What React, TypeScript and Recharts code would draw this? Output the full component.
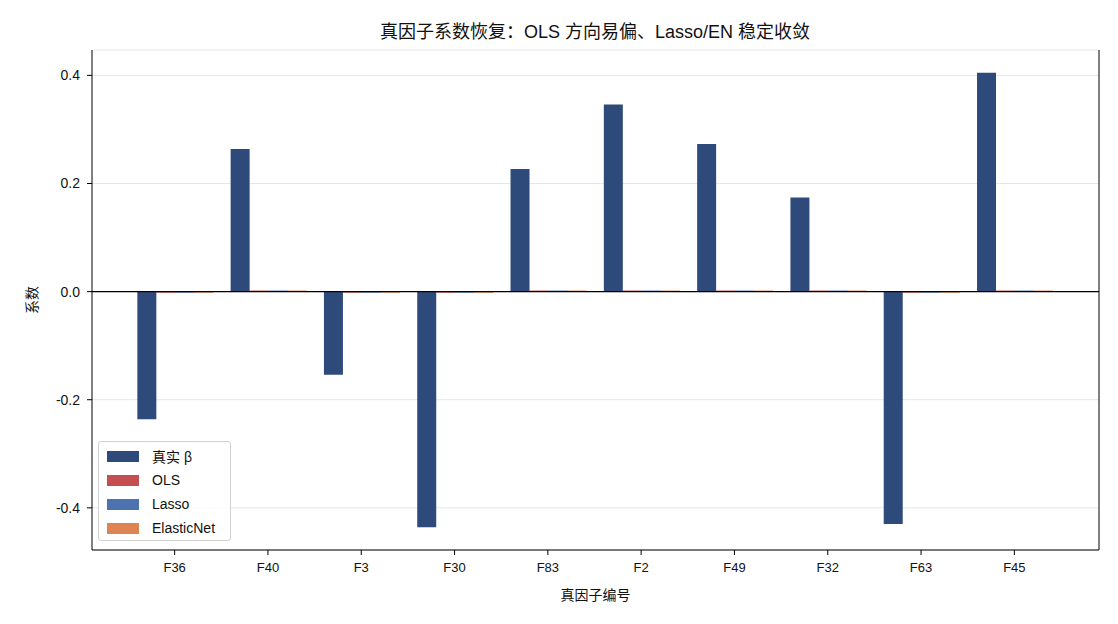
import React from 'react';
import { BarChart, Bar, XAxis, YAxis, CartesianGrid, ReferenceLine } from 'recharts';

// factor ids, in the order shown
const factors = ['F36', 'F40', 'F3', 'F30', 'F83', 'F2', 'F49', 'F32', 'F63', 'F45'];
const trueBeta = [-0.236, 0.264, -0.154, -0.436, 0.227, 0.346, 0.273, 0.174, -0.43, 0.405];
const olsCoef = [-0.002, 0.002, -0.002, -0.002, 0.002, 0.002, 0.002, 0.002, -0.002, 0.002];
const lassoCoef = [-0.002, 0.002, -0.002, -0.002, 0.002, 0.002, 0.002, 0.002, -0.002, 0.002];
const enCoef = [-0.002, 0.002, -0.002, -0.002, 0.002, 0.002, 0.002, 0.002, -0.002, 0.002];
const yTicks = [-0.4, -0.2, 0, 0.2, 0.4];

const series = [
  { key: 'beta', name: '真实 β', color: '#2e4a7a' },
  { key: 'ols', name: 'OLS', color: '#c44e52' },
  { key: 'lasso', name: 'Lasso', color: '#4c72b0' },
  { key: 'en', name: 'ElasticNet', color: '#dd8452' },
];

const data = factors.map((name, i) => ({
  name,
  beta: trueBeta[i],
  ols: olsCoef[i],
  lasso: lassoCoef[i],
  en: enCoef[i],
}));

const FONT = '"Liberation Sans", Arial, "Noto Sans CJK SC", sans-serif';

const LegendBox = () => (
  <div
    style={{
      position: 'absolute',
      left: 98,
      top: 441,
      width: 133,
      height: 100,
      boxSizing: 'border-box',
      border: '1px solid #d0d0d0',
      borderRadius: 3,
      background: 'rgba(255,255,255,0.8)',
      padding: '2px 0 0 8px',
      fontFamily: FONT,
      fontSize: 14,
      color: '#111',
    }}
  >
    {series.map((s) => (
      <div key={s.key} style={{ display: 'flex', alignItems: 'center', height: 24 }}>
        <span style={{ width: 32, height: 11, background: s.color, display: 'inline-block', marginRight: 13 }} />
        <span>{s.name}</span>
      </div>
    ))}
  </div>
);

const App = () => {
  return (
    <div style={{ position: 'absolute', left: 0, top: 0, width: 1118, height: 624, background: '#fff', fontFamily: FONT }}>
      <div style={{ position: 'absolute', left: 0, width: 1190, top: 17, textAlign: 'center', fontSize: 18, color: '#111' }}>
        真因子系数恢复：OLS 方向易偏、Lasso/EN 稳定收敛
      </div>
      <div style={{ position: 'absolute', left: 0, width: 1191, top: 584, textAlign: 'center', fontSize: 14, color: '#111' }}>
        真因子编号
      </div>
      <div
        style={{
          position: 'absolute',
          left: 31,
          top: 300,
          transform: 'translate(-50%, -50%) rotate(-90deg)',
          fontSize: 14,
          color: '#111',
          whiteSpace: 'nowrap',
        }}
      >
        系数
      </div>
      <BarChart
        width={1118}
        height={624}
        data={data}
        margin={{ top: 50, right: 18, left: 0, bottom: 0 }}
        barCategoryGap="10%"
        barGap={0}
      >
        <CartesianGrid horizontal vertical={false} stroke="#e6e6e6" strokeWidth={1} />
        <XAxis
          dataKey="name"
          height={74}
          interval={0}
          padding={{ left: 36, right: 38 }}
          axisLine={{ stroke: '#000' }}
          tickLine={{ stroke: '#000' }}
          tickSize={5}
          tick={{ fontSize: 13, fill: '#111', fontFamily: FONT }}
          tickMargin={8}
        />
        <XAxis xAxisId="top" dataKey="name" orientation="top" height={0} tick={false} tickLine={false} axisLine={{ stroke: '#000' }} />
        <YAxis
          width={92}
          domain={[-0.478, 0.447]}
          ticks={yTicks}
          allowDataOverflow
          tickFormatter={(v: number) => v.toFixed(1)}
          axisLine={{ stroke: '#000' }}
          tickLine={{ stroke: '#000' }}
          tickSize={5}
          tickMargin={7}
          tick={{ fontSize: 14, fill: '#111', fontFamily: FONT }}
        />
        <YAxis
          yAxisId="right"
          orientation="right"
          width={1}
          type="number"
          domain={[-0.478, 0.447]}
          allowDataOverflow
          tick={false}
          tickLine={false}
          axisLine={{ stroke: '#000' }}
        />
        {series.map((s) => (
          <Bar key={s.key} dataKey={s.key} name={s.name} fill={s.color} isAnimationActive={false} />
        ))}
        <ReferenceLine y={0} stroke="#000" strokeWidth={1.2} />
      </BarChart>
      <LegendBox />
    </div>
  );
};

export default App;
